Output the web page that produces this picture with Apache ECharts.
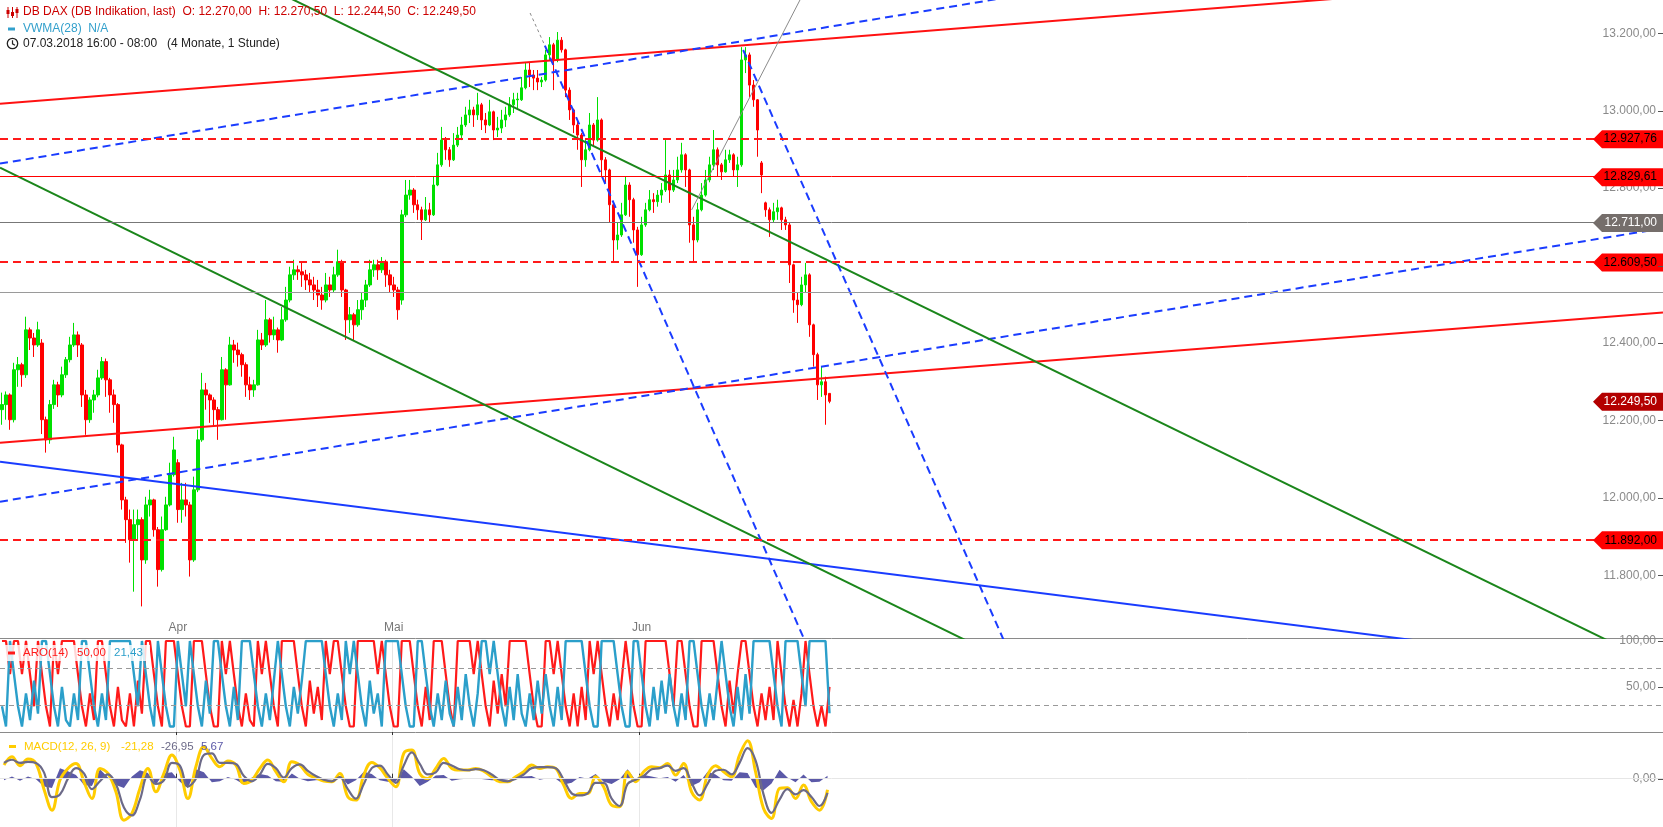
<!DOCTYPE html>
<html><head><meta charset="utf-8">
<script src="https://cdn.jsdelivr.net/npm/echarts@6/dist/echarts.min.js"></script>
<style>html,body{margin:0;padding:0;background:#fff}#c{width:1663px;height:827px}</style>
</head><body><div id="c"></div><script>
// ---------- DATA ----------
// hourly-ish candles [open, close, low, high]
const candles = [
[12228,12241,12189,12272],[12241,12266,12202,12275],[12266,12202,12176,12270],[12202,12331,12195,12349],[12331,12344,12287,12364],
[12344,12318,12287,12349],[12318,12434,12310,12468],[12434,12413,12382,12440],[12413,12395,12364,12426],[12395,12434,12390,12455],
[12400,12202,12165,12410],[12202,12150,12117,12210],[12150,12241,12140,12253],[12241,12292,12230,12305],[12292,12266,12235,12300],
[12266,12318,12260,12339],[12318,12357,12310,12364],[12357,12395,12350,12416],[12395,12421,12390,12452],[12421,12395,12364,12430],
[12395,12266,12235,12400],[12266,12202,12163,12279],[12202,12253,12194,12260],[12253,12266,12220,12279],[12266,12310,12260,12331],
[12310,12352,12305,12364],[12352,12305,12261,12360],[12305,12266,12220,12310],[12266,12241,12194,12280],[12241,12137,12117,12245],
[12137,11995,11970,12140],[11995,11944,11884,12003],[11944,11892,11833,11970],[11892,11931,11758,11970],[11931,11944,11892,11970],
[11944,11840,11720,11950],[11840,11982,11830,12003],[11982,11995,11952,12021],[11995,11918,11900,11998],[11918,11815,11771,11925],
[11815,11918,11810,11952],[11918,11982,11915,12003],[11982,12060,11978,12091],[12060,12124,12055,12158],[12091,11970,11936,12100],
[11970,11995,11936,12039],[11995,11982,11952,12039],[11982,11840,11797,11990],[11840,12021,11835,12055],[12021,12150,12015,12176],
[12150,12279,12145,12323],[12279,12266,12228,12297],[12266,12253,12194,12270],[12253,12228,12184,12260],[12228,12202,12150,12235],
[12202,12331,12200,12364],[12331,12292,12202,12335],[12292,12395,12290,12416],[12395,12382,12349,12408],[12382,12370,12339,12401],
[12370,12344,12313,12375],[12344,12292,12261,12350],[12292,12279,12253,12313],[12279,12292,12261,12305],[12292,12408,12290,12434],
[12408,12395,12382,12426],[12395,12460,12390,12511],[12460,12421,12401,12465],[12421,12434,12408,12468],[12434,12408,12375,12440],
[12408,12460,12405,12493],[12460,12511,12455,12545],[12511,12576,12505,12597],[12576,12589,12563,12615],[12589,12584,12563,12600],
[12584,12576,12545,12607],[12576,12563,12537,12589],[12563,12550,12530,12581],[12550,12537,12511,12571],[12537,12524,12493,12563],
[12524,12511,12486,12545],[12511,12550,12505,12581],[12550,12537,12519,12571],[12537,12576,12530,12597],[12576,12610,12571,12641],
[12610,12537,12519,12615],[12537,12460,12408,12540],[12460,12473,12426,12493],[12473,12447,12408,12478],[12447,12486,12442,12511],
[12486,12511,12460,12530],[12511,12550,12493,12563],[12550,12589,12545,12615],[12589,12602,12571,12615],[12602,12589,12563,12615],
[12589,12610,12581,12622],[12610,12576,12545,12615],[12576,12550,12530,12589],[12550,12537,12519,12571],[12537,12486,12460,12545],
[12511,12731,12499,12744],[12731,12782,12725,12821],[12782,12795,12770,12821],[12795,12757,12736,12800],[12757,12744,12718,12770],
[12744,12718,12666,12752],[12718,12744,12715,12777],[12744,12731,12710,12762],[12731,12808,12728,12829],[12808,12860,12805,12891],
[12860,12924,12855,12958],[12924,12899,12873,12932],[12899,12873,12855,12906],[12873,12911,12870,12942],[12911,12937,12906,12958],
[12937,12963,12924,12984],[12963,12989,12958,13010],[12989,13002,12968,13028],[13002,12989,12958,13010],[12989,13015,12976,13046],
[13015,12976,12950,13020],[12976,12963,12942,12994],[12963,12997,12960,13028],[12997,12950,12924,13000],[12950,12955,12932,12984],
[12955,12976,12942,13002],[12976,12989,12958,13010],[12989,13015,12984,13035],[13015,13028,12994,13046],[13028,13030,13002,13046],
[13028,13059,13025,13087],[13059,13105,13055,13123],[13105,13092,13061,13123],[13092,13084,13053,13105],[13084,13074,13053,13105],
[13074,13079,13061,13087],[13079,13144,13075,13157],[13144,13170,13131,13190],[13170,13131,13053,13175],[13131,13182,13125,13203],
[13182,13157,13150,13190],[13157,13053,13035,13160],[13053,13002,12976,13060],[13002,12963,12942,13005],[12963,12937,12899,12976],
[12937,12873,12803,12942],[12873,12899,12855,12924],[12899,12963,12895,12994],[12963,12924,12906,12968],[12924,12976,12920,13035],
[12976,12873,12829,12980],[12873,12847,12813,12880],[12847,12757,12710,12850],[12757,12666,12607,12760],[12666,12679,12641,12710],
[12679,12731,12674,12762],[12731,12808,12728,12829],[12808,12770,12726,12815],[12770,12692,12659,12775],[12692,12628,12545,12700],
[12628,12705,12625,12726],[12705,12744,12700,12762],[12744,12770,12740,12795],[12770,12765,12736,12787],[12765,12782,12752,12795],
[12782,12795,12762,12813],[12795,12834,12790,12924],[12834,12795,12762,12847],[12795,12821,12790,12847],[12821,12847,12813,12881],
[12847,12886,12840,12917],[12886,12847,12803,12890],[12847,12705,12659,12850],[12705,12666,12607,12726],[12666,12744,12660,12762],
[12744,12782,12740,12813],[12782,12821,12778,12847],[12821,12860,12815,12881],[12860,12899,12847,12950],[12899,12860,12829,12905],
[12860,12842,12821,12865],[12842,12873,12840,12899],[12873,12886,12865,12899],[12886,12847,12829,12890],[12847,12860,12803,12881],
[12860,13131,12855,13164],[13131,13144,13097,13164],[13144,13066,13035,13150],[13066,13028,13010,13079],[13028,12950,12881,13030],
[12865,12834,12787,12870],[12762,12744,12726,12765],[12744,12718,12674,12750],[12718,12739,12710,12762],[12739,12749,12718,12770],
[12749,12718,12692,12752],[12718,12705,12692,12726],[12705,12602,12555,12710],[12602,12511,12478,12605],[12511,12499,12452,12530],
[12499,12550,12495,12571],[12550,12576,12530,12607],[12576,12447,12416,12580],[12447,12370,12339,12450],[12370,12292,12253,12375],
[12292,12300,12261,12339],[12300,12266,12189,12313],[12270,12249.5,12244.5,12270.5]
];
const aroonUp = [
100,100,64,100,100,64,100,64,29,100, 64,29,7,100,64,100,100,100,100,64,
29,7,43,14,100,100,64,29,7,50, 14,7,43,7,57,21,100,100,64,29,
7,100,100,100,64,29,7,7,100,100, 100,64,29,7,7,100,64,100,64,29,
7,43,14,7,100,64,100,64,29,7, 100,100,100,100,64,29,7,57,21,50,
14,100,64,100,100,64,29,7,7,100, 100,100,100,100,64,100,64,29,7,7,
100,100,100,64,29,7,50,14,100,100, 100,64,29,7,100,100,100,100,64,100,
64,29,7,57,21,64,29,100,100,100, 100,100,64,29,7,7,100,100,64,100,
64,29,7,43,7,50,14,100,64,100, 64,29,7,43,14,57,100,64,29,7,
7,100,100,100,100,100,100,64,29,100, 100,64,29,7,7,100,100,100,100,64,
29,7,57,21,64,100,100,64,29,7, 43,14,50,14,100,64,29,7,36,7,
43,100,64,29,7,29,7,50
];
const aroonDown = [
29,7,100,64,29,7,43,14,57,21, 100,100,64,29,7,50,14,7,43,14,
100,100,64,29,7,43,14,100,100,100, 100,100,100,64,29,100,64,29,7,100,
64,29,7,7,100,64,29,100,64,29, 7,57,21,100,100,64,29,7,50,14,
100,100,100,64,29,7,43,14,57,100, 64,29,7,50,21,57,100,100,100,100,
100,64,29,7,43,14,100,64,100,64, 29,7,57,21,43,7,100,100,100,100,
64,29,7,7,100,100,64,29,7,43, 14,57,21,7,50,14,64,29,7,43,
100,100,64,100,64,29,7,50,14,64, 21,7,43,14,57,21,64,29,7,50,
14,100,100,100,100,100,64,29,7,7, 100,100,100,100,64,29,7,7,100,100,
64,29,7,50,14,57,21,64,29,7, 43,14,100,100,64,29,7,43,14,57,
100,64,29,7,50,14,64,21,100,100, 100,100,100,64,29,7,100,100,100,100,
64,29,100,100,100,100,100,21.43
];
const macdLine = [
25.8,41.7,24.6,37.3,29,-20,-60,-2.7,19.5,29,
-5.9,-37.7,19.5,10,-25,-79,-66,-18.6,19.5,-25,
10,44.9,16.3,-37.7,22.7,60.8,38.6,22.7,33.5,25.9,
-9,-2.7,19.5,35.4,13.2,-5.9,32.2,25.9,8.1,1.7,
-4.6,-5.9,10,-34.5,-40.8,6.8,30.9,20.8,0.5,-15.4,
48.1,54.4,10,0.5,19.5,38.6,19.5,16.3,16.3,19.5,
14.4,3.6,-5.9,-5.9,3.6,13.2,25.9,19.5,22.7,19.5,
-12.3,-37.7,-28.1,-28.1,3.6,-15.4,-50.4,-53.5,13.2,-5.9,
13.2,22.7,20.8,29,6.8,29,-25,-40.8,6.8,24.6,
13.2,3.6,45,72,13.2,-56.7,-75.8,-18.6,-17.3,-37.7,
-12.3,-44,-59.9,-21.28
];
const macdSignal = [
30,36,30,32,30,12,-35,-30,0,20,
10,-20,-5,8,-10,-55,-70,-40,5,-10,
-3,30,25,-15,0,45,48,30,30,28,
5,-5,8,28,20,2,20,27,15,5,
-2,-5,3,-20,-38,-10,20,25,8,-8,
25,50,28,8,12,30,25,18,16,18,
16,8,-2,-5,0,8,20,22,22,20,
-2,-28,-32,-28,-8,-8,-38,-52,-10,-2,
5,18,20,25,15,20,-8,-32,-10,15,
17,8,30,58,35,-30,-65,-40,-20,-30,
-22,-35,-52,-26.95
];
const macdHist = [
-3,4,-4,4,-1,-15,-18,20,14,7,
-12,-14,18,2,-12,-18,4,16,11,-11,
10,12,-6,-18,18,12,-7,-5,3,-2,
-11,2,9,6,-5,-6,10,0,-5,-3,
-2,-1,5,-11,-3,13,9,-3,-6,-6,
18,4,-14,-6,6,7,-4,-1,0,1,
-1,-3,-3,-1,3,4,5,-2,1,0,
-11,-8,3,0,9,-6,-10,-1,18,-3,
7,4,1,3,-6,7,-14,-7,13,8,
-3,-4,12,11,-17,-22,-9,17,2,-7,
8,-7,-6,5.67
];
const priceTicks = [11800,12000,12200,12400,12600,12800,13000,13200];
const aroonTicks = [50,100];
const macdTicks = [0];
const monthLabels = ['Apr','Mai','Jun'];
const monthBar = [44,98,160];          // bar slot where each month starts
const levelDashedRed = [12927.76, 12609.50, 11892.00];
const levelSolidRed = [12829.61];
const levelGrayDark = [12711.00];
const levelGrayLight = [12530];
const tagValues = [12927.76, 12829.61, 12711.00, 12609.50, 12249.50, 11892.00];
const aroonLevels = [70, 30];
// trend lines: [barSlot, price] pairs
const trendRedUpper = [[-0.5,13017.9],[415.5,13355.4]];
const trendRedLower = [[-0.5,12142.6],[415.5,12478.8]];
const trendBlueDashUpper = [[-0.5,12863.3],[415.5,13571.8]];
const trendBlueDashLower = [[-0.5,11990.3],[415.5,12696.4]];
const trendBlueSolid = [[-0.5,12093.5],[415.5,11551.6]];
const trendGreenUpper = [[-0.5,13655.5],[415.5,11562.4]];
const trendGreenLower = [[-0.5,12852.9],[415.5,10751.4]];
const trendBlueSteepA = [[135.8,13167.9],[207.3,11478.2]];
const trendGrayDotA = [[132.1,13252.1],[135.8,13167.9]];
const trendBlueSteepB = [[185.4,13156.6],[257.2,11478.2]];
const trendGrayThin = [[172.5,12743.5],[200.9,13311.5]];

// ---------- STYLE / LAYOUT ----------
const slotCount = 416;
const FONT = '"Liberation Sans", Arial, sans-serif';
const tagFill = ['#ff0000','#ff0000','#756e6b','#ff0000','#b30000','#ff0000'];
const tagText = ['#000','#000','#fff','#000','#fff','#000'];

function fmt(v){
  const s = Number(v).toFixed(2);
  let [i,d] = s.split('.');
  i = i.replace(/\B(?=(\d{3})+(?!\d))/g,'.');
  return i + ',' + d;
}
const cats = Array.from({length: slotCount}, (_, i) => String(i));
const cats2 = Array.from({length: slotCount/2}, (_, i) => String(i));
const monthMap = new Map(monthBar.map((b,i)=>[b, monthLabels[i]]));
const macdMonth = monthBar.map(b => b/2);

function trend(data, color, width, type, z){
  return {type:'line', xAxisIndex:1, yAxisIndex:0, data, symbol:'none', silent:true, z:z||4,
    lineStyle:{color, width, type: type||'solid'}, clip:true, animation:false};
}
function tickSeries(xi, yi, values){
  return {type:'custom', xAxisIndex:xi, yAxisIndex:yi, z:21, silent:true, clip:false,
    data: values.map(v=>[0, v]),
    renderItem:(params, api)=>{
      const y = Math.round(api.coord([0, api.value(1)])[1]) + 0.5;
      const R = params.coordSys.x + params.coordSys.width;
      return {type:'line', shape:{x1:R-5, y1:y, x2:R, y2:y}, style:{stroke:'#555', lineWidth:1}};
    }};
}
const axisLabelCommon = {inside:true, margin:7, color:'#8a8a8a', fontSize:12, fontFamily:FONT, formatter:fmt};

const hLineData = [];
levelDashedRed.forEach(v=>hLineData.push({yAxis:v, lineStyle:{color:'#ff1a1a', width:2, type:[8,5]}}));
levelSolidRed.forEach(v=>hLineData.push({yAxis:v, lineStyle:{color:'#ff0000', width:1, type:'solid'}}));
levelGrayDark.forEach(v=>hLineData.push({yAxis:v, lineStyle:{color:'#777', width:1, type:'solid'}}));
levelGrayLight.forEach(v=>hLineData.push({yAxis:v, lineStyle:{color:'#9a9a9a', width:1.2, type:'solid'}}));

const last = candles[candles.length-1];
const chart = echarts.init(document.getElementById('c'), null, {renderer:'canvas'});

const option = {
  animation:false,
  backgroundColor:'#fff',
  textStyle:{fontFamily:FONT},
  grid:[
    {left:0, right:0, top:0, height:638},
    {left:0, right:0, top:641, height:91},
    {left:0, right:0, top:734, height:93}
  ],
  xAxis:[
    {type:'category', gridIndex:0, data:cats, boundaryGap:true,
     axisLine:{show:true, lineStyle:{color:'#8a8a8a', width:1}}, axisTick:{show:false},
     axisLabel:{inside:true, interval:(i)=>monthMap.has(i), formatter:(v,i)=>monthMap.get(i)||'', color:'#777', fontSize:12, margin:4, fontFamily:FONT},
     splitLine:{show:false}},
    {type:'value', gridIndex:0, min:-0.5, max:slotCount-0.5, show:false},
    {type:'category', gridIndex:1, data:cats, boundaryGap:true,
     axisLine:{show:true, lineStyle:{color:'#8a8a8a', width:1}},
     axisTick:{show:true, interval:(i)=>monthMap.has(i), length:3, lineStyle:{color:'#333'}},
     axisLabel:{show:false},
     splitLine:{show:true, interval:(i)=>monthMap.has(i), lineStyle:{color:'#e4e4e4'}}},
    {type:'category', gridIndex:2, data:cats2, boundaryGap:true,
     axisLine:{show:false},
     axisTick:{show:true, inside:true, interval:(i)=>macdMonth.includes(i), length:5, lineStyle:{color:'#333'}},
     axisLabel:{show:false},
     splitLine:{show:true, interval:(i)=>macdMonth.includes(i), lineStyle:{color:'#e8e8e8'}}}
  ],
  yAxis:[
    {type:'value', gridIndex:0, position:'right', min:11638.4, max:13285.7,
     axisLine:{show:false}, splitLine:{show:false}, axisTick:{show:false},
     axisLabel:Object.assign({customValues:priceTicks}, axisLabelCommon)},
    {type:'value', gridIndex:1, position:'right', min:1, max:100,
     axisLine:{show:false}, splitLine:{show:false}, axisTick:{show:false},
     axisLabel:Object.assign({customValues:aroonTicks}, axisLabelCommon)},
    {type:'value', gridIndex:2, position:'right', min:-92, max:85,
     axisLine:{show:false}, splitLine:{show:false}, axisTick:{show:false},
     axisLabel:Object.assign({customValues:macdTicks}, axisLabelCommon)}
  ],
  series:[
    {type:'candlestick', xAxisIndex:0, yAxisIndex:0, data:candles, barWidth:3, z:2, silent:true,
     itemStyle:{color:'#00e000', color0:'#ff0000', borderColor:'#00e000', borderColor0:'#ff0000', borderWidth:1}},
    Object.assign(trend(trendRedUpper,'#ff1111',2), {markLine:{symbol:['none','none'], silent:true, label:{show:false}, animation:false, data:hLineData}}),
    trend(trendRedLower,'#ff1111',2),
    trend(trendBlueDashUpper,'#1a3cff',2,[8,5]),
    trend(trendBlueDashLower,'#1a3cff',2,[8,5]),
    trend(trendBlueSolid,'#1a3cff',2),
    trend(trendGreenUpper,'#1b861b',2),
    trend(trendGreenLower,'#1b861b',2),
    trend(trendBlueSteepA,'#1a3cff',2,[8,5]),
    trend(trendGrayDotA,'#8a8a8a',1,[3,3]),
    trend(trendBlueSteepB,'#1a3cff',2,[8,5]),
    trend(trendGrayThin,'#8a8a8a',1),
    {type:'custom', xAxisIndex:1, yAxisIndex:0, z:20, silent:true, clip:false,
     data: tagValues.map((v,i)=>[0, v, i]),
     renderItem:(params, api)=>{
       const i = api.value(2), v = api.value(1);
       const y = api.coord([0, v])[1] + 0.5;
       const R = params.coordSys.x + params.coordSys.width;
       return {type:'group', children:[
         {type:'polygon', shape:{points:[[R-70,y],[R-61,y-9],[R,y-9],[R,y+9],[R-61,y+9]]}, style:{fill:tagFill[i]}},
         {type:'text', x:R-6, y:y, style:{text:fmt(v), fill:tagText[i], font:'12px '+FONT, align:'right', verticalAlign:'middle'}}
       ]};
     }},
    tickSeries(1, 0, priceTicks),
    tickSeries(2, 1, aroonTicks),
    tickSeries(3, 2, macdTicks),
    {type:'line', xAxisIndex:2, yAxisIndex:1, data:aroonUp, symbol:'none', silent:true, z:3,
     lineStyle:{color:'#ff1a1a', width:2.2},
     markLine:{symbol:['none','none'], silent:true, label:{show:false}, animation:false,
       data: aroonLevels.map(v=>({yAxis:v, lineStyle:{color:'#999', width:1, type:[5,4]}}))}},
    {type:'line', xAxisIndex:2, yAxisIndex:1, data:aroonDown, symbol:'none', silent:true, z:3,
     lineStyle:{color:'#2b9fca', width:2.4}},
    {type:'line', xAxisIndex:3, yAxisIndex:2, data:macdHist, symbol:'none', silent:true, z:2,
     lineStyle:{width:0}, areaStyle:{color:'#5b59a8', opacity:1},
     markLine:{symbol:['none','none'], silent:true, label:{show:false}, animation:false,
       data:[{yAxis:0, lineStyle:{color:'#e6e6e6', width:1, type:'solid'}}]}},
    {type:'line', xAxisIndex:3, yAxisIndex:2, data:macdLine, symbol:'none', silent:true, z:3, smooth:0.4,
     lineStyle:{color:'#ffcc00', width:3}},
    {type:'line', xAxisIndex:3, yAxisIndex:2, data:macdSignal, symbol:'none', silent:true, z:4, smooth:0.4,
     lineStyle:{color:'#6c6a88', width:2.2}}
  ],
  graphic:[
    {type:'group', z:100, children:[
      {type:'line', shape:{x1:8,y1:7,x2:8,y2:18}, style:{stroke:'#cc0000', lineWidth:1}},
      {type:'rect', shape:{x:6.5,y:10,width:3,height:4}, style:{fill:'#cc0000'}},
      {type:'line', shape:{x1:12.5,y1:7,x2:12.5,y2:18}, style:{stroke:'#cc0000', lineWidth:1}},
      {type:'rect', shape:{x:11,y:12,width:3,height:4}, style:{fill:'#cc0000'}},
      {type:'line', shape:{x1:17,y1:7,x2:17,y2:18}, style:{stroke:'#cc0000', lineWidth:1}},
      {type:'rect', shape:{x:15.5,y:9,width:3,height:4}, style:{fill:'#cc0000'}}
    ]},
    {type:'text', z:100, x:23, y:12, style:{text:`DB DAX (DB Indikation, last)  O: ${fmt(last[0])}  H: ${fmt(last[3])}  L: ${fmt(last[2])}  C: ${fmt(last[1])}`, fill:'#cc0000', font:'12px '+FONT, verticalAlign:'middle'}},
    {type:'rect', z:100, shape:{x:8,y:27.5,width:7,height:3}, style:{fill:'#33a0cc'}},
    {type:'text', z:100, x:23, y:29, style:{text:'VWMA(28)  N/A', fill:'#33a0cc', font:'12px '+FONT, verticalAlign:'middle'}},
    {type:'circle', z:100, shape:{cx:12.5,cy:43.5,r:5.2}, style:{fill:'none', stroke:'#222', lineWidth:1.3}},
    {type:'polyline', z:100, shape:{points:[[12.5,40.3],[12.5,43.8],[15,45.3]]}, style:{fill:'none', stroke:'#222', lineWidth:1.2}},
    {type:'text', z:100, x:23, y:44, style:{text:'07.03.2018 16:00 - 08:00   (4 Monate, 1 Stunde)', fill:'#222', font:'12px '+FONT, verticalAlign:'middle'}},
    {type:'rect', z:90, shape:{x:0,y:645,width:150,height:16}, style:{fill:'rgba(255,255,255,0.82)'}},
    {type:'rect', z:100, shape:{x:8,y:651.5,width:7,height:3}, style:{fill:'#ff1a1a'}},
    {type:'text', z:100, x:23, y:653, style:{text:'ARO(14)', fill:'#ff1a1a', font:'11.5px '+FONT, verticalAlign:'middle'}},
    {type:'text', z:100, x:77, y:653, style:{text:fmt(aroonUp[aroonUp.length-1]), fill:'#ff1a1a', font:'11.5px '+FONT, verticalAlign:'middle'}},
    {type:'text', z:100, x:114, y:653, style:{text:fmt(aroonDown[aroonDown.length-1]), fill:'#2b9fca', font:'11.5px '+FONT, verticalAlign:'middle'}},
    {type:'rect', z:100, shape:{x:9,y:745,width:7,height:3}, style:{fill:'#ffcc00'}},
    {type:'text', z:100, x:24, y:746.5, style:{text:'MACD(12, 26, 9)', fill:'#ffcc00', font:'11.5px '+FONT, verticalAlign:'middle'}},
    {type:'text', z:100, x:121, y:746.5, style:{text:fmt(macdLine[macdLine.length-1]), fill:'#ffcc00', font:'11.5px '+FONT, verticalAlign:'middle'}},
    {type:'text', z:100, x:161, y:746.5, style:{text:fmt(macdSignal[macdSignal.length-1]), fill:'#6c6a88', font:'11.5px '+FONT, verticalAlign:'middle'}},
    {type:'text', z:100, x:201, y:746.5, style:{text:fmt(macdHist[macdHist.length-1]), fill:'#5b59a8', font:'11.5px '+FONT, verticalAlign:'middle'}}
  ]
};
chart.setOption(option);
</script></body></html>
